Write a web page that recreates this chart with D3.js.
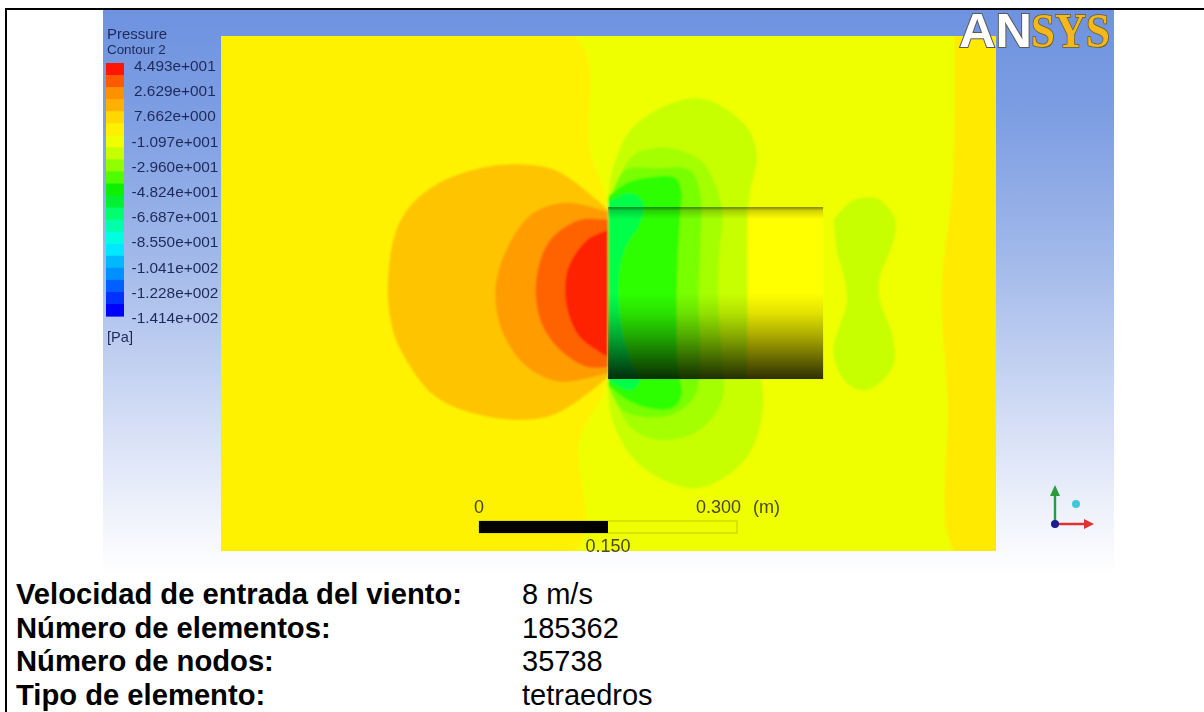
<!DOCTYPE html>
<html><head><meta charset="utf-8">
<script src="https://cdn.jsdelivr.net/npm/d3@7"></script>
<style>html,body{margin:0;padding:0;background:#fff;overflow:hidden}svg{display:block}text{font-family:"Liberation Sans",Arial,sans-serif}</style>
</head><body><svg id="c" width="1204" height="712"></svg>
<script>
// Legend
const legendTitle = ["Pressure", "Contour 2"];
const legendTicks = ["4.493e+001","2.629e+001","7.662e+000","-1.097e+001","-2.960e+001","-4.824e+001","-6.687e+001","-8.550e+001","-1.041e+002","-1.228e+002","-1.414e+002"];
const legendUnit = "[Pa]";
const legendValues = [44.93,26.29,7.662,-10.97,-29.60,-48.24,-66.87,-85.50,-104.1,-122.8,-141.4];
const legendColors = ["#ff1400","#ff5a00","#ff9000","#ffb000","#ffd800","#fff000","#f0ff00","#c8ff00","#90ff00","#50ff00","#10f000","#00f030","#00ff70","#00ffa8","#00ffe0","#00e8ff","#00b8ff","#0090ff","#0060ff","#0030ff","#0000ff"];
// Scale bar and info table
const scaleTicks = [[0,"0"],[150,"0.150"],[300,"0.300"]];
const scaleUnit = "(m)";
const infoLabels = ["Velocidad de entrada del viento:","Número de elementos:","Número de nodos:","Tipo de elemento:"];
const infoValues = ["8 m/s","185362","35738","tetraedros"];
// Contours, in millimetres around the cylinder's front-centre point
const cylinderBody = {x0:0,x1:250,y0:-100,y1:100};
const cLeftZone = [[-38,299],[-21,166],[0,100],[0,-101],[-33,-171],[-38,-300]];
const cRightBand = [[403,299],[401,131],[388,3],[395,-124],[403,-300]];
const cFrontOuter = [[0,97],[-41,131],[-67,145],[-134,148],[-205,123],[-242,83],[-256,15],[-251,-40],[-238,-72],[-200,-121],[-134,-145],[-71,-144],[-33,-124],[0,-98]];
const cFrontMid = [[0,94],[-48,105],[-87,93],[-117,53],[-131,3],[-122,-47],[-94,-86],[-56,-103],[0,-93]];
const cFrontInner = [[0,85],[-33,85],[-67,62],[-83,19],[-79,-31],[-56,-66],[-24,-86],[0,-86]];
const cFrontCore = [[0,73],[-24,62],[-47,27],[-48,-16],[-33,-51],[0,-74]];
const cSideOuter = [[0,102],[5,143],[31,195],[103,227],[157,198],[173,163],[165,116],[162,62],[167,0],[173,-66],[180,-136],[159,-194],[103,-227],[37,-200],[5,-148],[0,-101]];
const cSide2 = [[0,102],[29,160],[69,169],[107,155],[124,128],[133,93],[130,53],[128,-5],[133,-81],[133,-124],[107,-159],[69,-171],[29,-159],[0,-107]];
const cSide3 = [[0,102],[20,143],[57,145],[95,143],[107,116],[107,53],[105,-5],[107,-81],[101,-119],[72,-142],[20,-138],[0,-107]];
const cSide4 = [[0,112],[22,128],[52,135],[78,134],[85,120],[84,93],[80,15],[81,-81],[85,-121],[74,-134],[49,-134],[22,-124],[0,-107]];
const cSide5 = [[0,106],[26,116],[41,105],[37,81],[20,53],[12,15],[17,-47],[29,-86],[37,-101],[26,-113],[0,-101]];
const cWake = [[262,85],[285,108],[313,110],[334,85],[331,58],[316,19],[316,-8],[331,-51],[331,-86],[301,-113],[278,-105],[262,-70],[278,-5],[266,47]];

const svg = d3.select("#c");
const defs = svg.append("defs");
const x = d3.scaleLinear().domain([-450,451]).range([221,996]);
const y = d3.scaleLinear().domain([299,-300]).range([36,551]);
const panel = {x:103,y:9,w:1011,h:566};

const bg = defs.append("linearGradient").attr("id","bg").attr("x1",0).attr("y1",0).attr("x2",0).attr("y2",1);
[[0,"#6d92df"],[.2,"#7f9fe3"],[.45,"#a3baea"],[.7,"#cfdaf4"],[.9,"#f0f3fb"],[1,"#ffffff"]].forEach(d=>bg.append("stop").attr("offset",d[0]).attr("stop-color",d[1]));
const sh = defs.append("linearGradient").attr("id","sh").attr("x1",0).attr("y1",0).attr("x2",0).attr("y2",1);
[[0,"#000",.5],[.02,"#000",.18],[.07,"#000",0],[.5,"#000",0],[.62,"#000",.12],[.74,"#000",.32],[.86,"#000",.55],[1,"#000",.82]].forEach(d=>sh.append("stop").attr("offset",d[0]).attr("stop-color",d[1]).attr("stop-opacity",d[2]));
defs.append("filter").attr("id","soft").append("feGaussianBlur").attr("stdDeviation",1);
defs.append("filter").attr("id","soft2").append("feGaussianBlur").attr("stdDeviation",.45);
defs.append("clipPath").attr("id","plot").append("rect").attr("x",x(-450)).attr("y",y(299)).attr("width",x(451)-x(-450)).attr("height",y(-300)-y(299));

// page frame
svg.append("rect").attr("x",panel.x).attr("y",panel.y).attr("width",panel.w).attr("height",panel.h).attr("fill","url(#bg)");
svg.append("rect").attr("x",5).attr("y",8).attr("width",1199).attr("height",2).attr("fill","#000");
svg.append("rect").attr("x",5).attr("y",8).attr("width",2).attr("height",704).attr("fill","#000");

// contour field
const field = svg.append("g").attr("clip-path","url(#plot)").append("g").attr("filter","url(#soft)");
field.append("rect").attr("x",x(-450)-4).attr("y",y(299)-4).attr("width",x(451)-x(-450)+8).attr("height",y(-300)-y(299)+8).attr("fill","#efff00");
const curve = d3.line().x(d=>x(d[0])).y(d=>y(d[1])).curve(d3.curveCatmullRom.alpha(.5));
const area = (pts,fill)=>field.append("path").attr("d",curve(pts)+"Z").attr("fill",fill);
area([[-470,320],...cLeftZone,[-470,-320]],"#fff200");
area([...cRightBand,[470,-320],[470,320]],"#ffea00");
area(cWake,"#c8ff00");
area(cSideOuter,"#c8ff00");
area(cSide2,"#a4ff00");
area(cSide3,"#78ff00");
area(cSide4,"#2eff00");
area(cSide5,"#00ff48");
area(cFrontOuter,"#ffc400");
area(cFrontMid,"#ff9c00");
area(cFrontInner,"#ff6400");
area(cFrontCore,"#ff2200");
field.append("rect").attr("x",x(162)).attr("y",y(cylinderBody.y1)).attr("width",x(cylinderBody.x1)-x(162)).attr("height",y(cylinderBody.y0)-y(cylinderBody.y1)).attr("fill","#ffff00");

// cylinder shading
svg.append("rect").attr("x",x(cylinderBody.x0)).attr("y",y(cylinderBody.y1)).attr("width",x(cylinderBody.x1)-x(cylinderBody.x0)).attr("height",y(cylinderBody.y0)-y(cylinderBody.y1)).attr("fill","url(#sh)");

// legend
const band = d3.scaleBand().domain(d3.range(legendColors.length)).range([63,316]);
svg.append("g").attr("filter","url(#soft2)").selectAll("rect").data(legendColors).join("rect")
 .attr("x",106).attr("width",18).attr("y",(d,i)=>band(i)).attr("height",band.bandwidth()+.6).attr("fill",d=>d);
const ly = d3.scalePoint().domain(legendValues).range([66,318]);
const lt = svg.append("g").attr("filter","url(#soft2)").attr("fill","#1f2a5a");
lt.selectAll("text.t").data(legendTicks).join("text").attr("class","t")
 .attr("x",d=>d[0]==="-"?131.5:134).attr("y",(d,i)=>ly(legendValues[i])+5).attr("font-size",15.4).text(d=>d);
lt.selectAll("text.h").data(legendTitle).join("text").attr("class","h")
 .attr("x",107).attr("y",(d,i)=>39+i*14.5).attr("font-size",(d,i)=>i?13.4:15).text(d=>d);
lt.append("text").attr("x",107).attr("y",342).attr("font-size",14.6).text(legendUnit);

// scale bar
const sb = d3.scaleLinear().domain([0,300]).range([479,737]);
svg.append("rect").attr("x",sb(0)).attr("y",521).attr("width",sb(300)-sb(0)).attr("height",12).attr("fill","none").attr("stroke","#c8c800").attr("stroke-width",1);
svg.append("rect").attr("x",sb(0)).attr("y",521).attr("width",sb(150)-sb(0)).attr("height",12).attr("fill","#000");
const st = svg.append("g").attr("filter","url(#soft2)").attr("fill","#4a4a20").attr("font-size",18);
st.append("text").attr("x",sb(0)).attr("y",513).attr("text-anchor","middle").text(scaleTicks[0][1]);
st.append("text").attr("x",sb(150)).attr("y",552).attr("text-anchor","middle").text(scaleTicks[1][1]);
st.append("text").attr("x",sb(300)-41).attr("y",513).text(scaleTicks[2][1]);
st.append("text").attr("x",753).attr("y",513).text(scaleUnit);

// triad
const tr = svg.append("g").attr("filter","url(#soft2)");
tr.append("line").attr("x1",1055).attr("y1",524).attr("x2",1055).attr("y2",492).attr("stroke","#2a9a3a").attr("stroke-width",2.4);
tr.append("path").attr("d",d3.line()([[1055,485],[1050,496],[1060,496]])+"Z").attr("fill","#2a9a3a");
tr.append("line").attr("x1",1055).attr("y1",524).attr("x2",1088).attr("y2",524).attr("stroke","#e03030").attr("stroke-width",2.4);
tr.append("path").attr("d",d3.line()([[1094,524],[1084,519],[1084,529]])+"Z").attr("fill","#e03030");
tr.append("circle").attr("cx",1055).attr("cy",524).attr("r",4).attr("fill","#1a1a90");
tr.append("circle").attr("cx",1076).attr("cy",504).attr("r",4).attr("fill","#40c8d8");

// logo
const logo = svg.append("g").attr("filter","url(#soft2)");
logo.append("text").attr("x",959).attr("y",47).attr("font-size",49).attr("font-weight","bold").attr("textLength",73).attr("lengthAdjust","spacingAndGlyphs").attr("fill","#fff").attr("stroke","#5a5a5a").attr("stroke-width",2).attr("paint-order","stroke").text("AN");
logo.append("text").attr("x",1031).attr("y",47).attr("font-size",49).attr("font-weight","bold").attr("textLength",79).attr("lengthAdjust","spacingAndGlyphs").attr("fill","#f4b81c").attr("stroke","#6a5a20").attr("stroke-width",1.6).attr("paint-order","stroke").style("font-family","'Liberation Serif'").text("SYS");

// info
const iy = d3.scalePoint().domain(d3.range(4)).range([604,705]);
svg.selectAll("text.l").data(infoLabels).join("text").attr("class","l").attr("x",16).attr("y",(d,i)=>iy(i)).attr("font-size",29.2).attr("font-weight","bold").attr("fill","#000").text(d=>d);
svg.selectAll("text.v").data(infoValues).join("text").attr("class","v").attr("x",522).attr("y",(d,i)=>iy(i)).attr("font-size",29).attr("fill","#000").text(d=>d);
</script></body></html>
